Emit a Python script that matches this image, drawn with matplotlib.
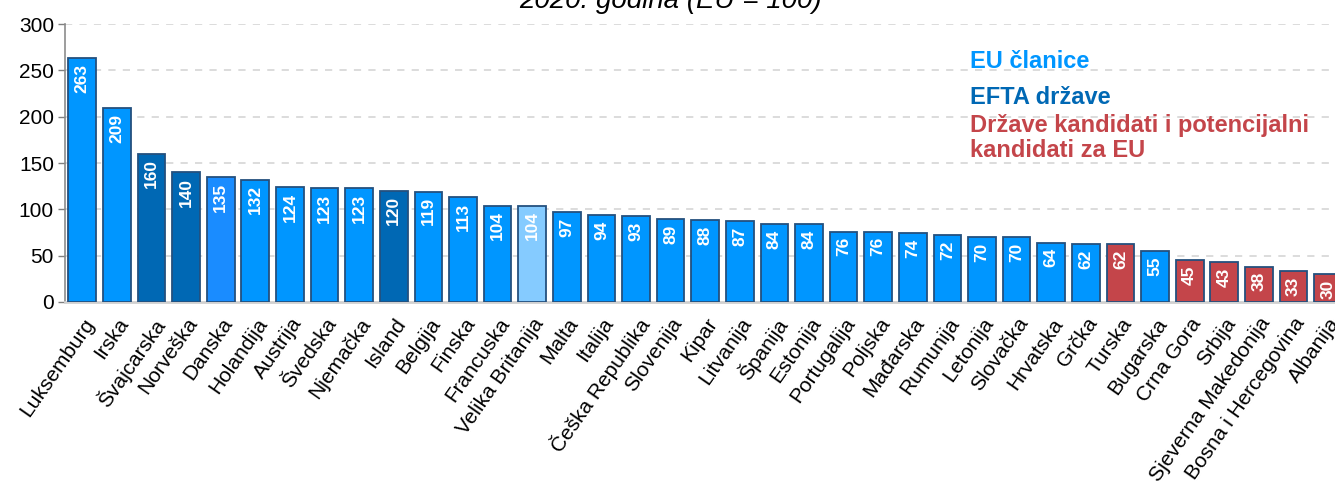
import matplotlib
matplotlib.use("Agg")
import matplotlib.pyplot as plt

plt.rcParams['font.family'] = ['Liberation Sans', 'DejaVu Sans']

countries = ["Luksemburg", "Irska", "Švajcarska", "Norveška", "Danska", "Holandija",
             "Austrija", "Švedska", "Njemačka", "Island", "Belgija", "Finska",
             "Francuska", "Velika Britanija", "Malta", "Italija", "Češka Republika",
             "Slovenija", "Kipar", "Litvanija", "Španija", "Estonija", "Portugalija",
             "Poljska", "Mađarska", "Rumunija", "Letonija", "Slovačka", "Hrvatska",
             "Grčka", "Turska", "Bugarska", "Crna Gora", "Srbija",
             "Sjeverna Makedonija", "Bosna i Hercegovina", "Albanija"]
values = [263, 209, 160, 140, 135, 132, 124, 123, 123, 120, 119, 113, 104, 104,
          97, 94, 93, 89, 88, 87, 84, 84, 76, 76, 74, 72, 70, 70, 64, 62, 62, 55,
          45, 43, 38, 33, 30]
# group: eu, efta, dk (slightly different blue), uk (light), cand
groups = ["eu", "eu", "efta", "efta", "dk", "eu", "eu", "eu", "eu", "efta", "eu",
          "eu", "eu", "uk", "eu", "eu", "eu", "eu", "eu", "eu", "eu", "eu", "eu",
          "eu", "eu", "eu", "eu", "eu", "eu", "eu", "cand", "eu", "cand", "cand",
          "cand", "cand", "cand"]

colors = {"eu": "#0096FF", "efta": "#0068B4", "dk": "#1A8CFF",
          "uk": "#85CBFF", "cand": "#C4454A"}

fig = plt.figure(figsize=(13.35, 4.94), dpi=100)
ax = fig.add_axes([0.0487, 0.389, 0.9513, 0.562])

x = list(range(len(countries)))
bars = ax.bar(x, values, width=0.8, color=[colors[g] for g in groups],
              edgecolor="#24507E", linewidth=1.3, zorder=3)

for xi, v in zip(x, values):
    ax.annotate(str(v), (xi, v), xytext=(0, -4), textcoords="offset points",
                rotation=90, ha="center", va="top", color="white",
                fontsize=12.5, fontweight="bold", zorder=4)

ax.set_xlim(-0.5, 36.2)
ax.set_ylim(0, 300)
ax.set_yticks(range(0, 301, 50))
ax.tick_params(axis="y", labelsize=15, colors="#7f7f7f", labelcolor="black",
               length=5, width=1, pad=3)
ax.set_xticks(x)
ax.set_xticklabels(countries, rotation=55, ha="right", rotation_mode="anchor",
                   fontsize=15)
ax.tick_params(axis="x", length=0, pad=9)

for y in range(50, 301, 50):
    ax.axhline(y, color="#d9d9d9", linestyle=(0, (4, 4)), linewidth=1.3, zorder=1)

for s in ["top", "right"]:
    ax.spines[s].set_visible(False)
ax.spines["left"].set_color("#8c8c8c")
ax.spines["left"].set_linewidth(1.2)
ax.spines["bottom"].set_color("#d0d0d0")
ax.spines["bottom"].set_linewidth(2)

fig.text(0.502, 1.0 - 8 / 494, "2020. godina (EU = 100)", ha="center",
         va="baseline", fontsize=20, style="italic")

fig.text(970 / 1335, 1 - 62 / 494, "EU članice", color="#0096FF",
         fontsize=17, fontweight="bold", va="center")
fig.text(970 / 1335, 1 - 97 / 494, "EFTA države", color="#0068B4",
         fontsize=17, fontweight="bold", va="center")
fig.text(970 / 1335, 1 - 138 / 494,
         "Države kandidati i potencijalni\nkandidati za EU", color="#C4454A",
         fontsize=17, fontweight="bold", va="center", linespacing=1.1)

fig.savefig("out.png", dpi=100)
